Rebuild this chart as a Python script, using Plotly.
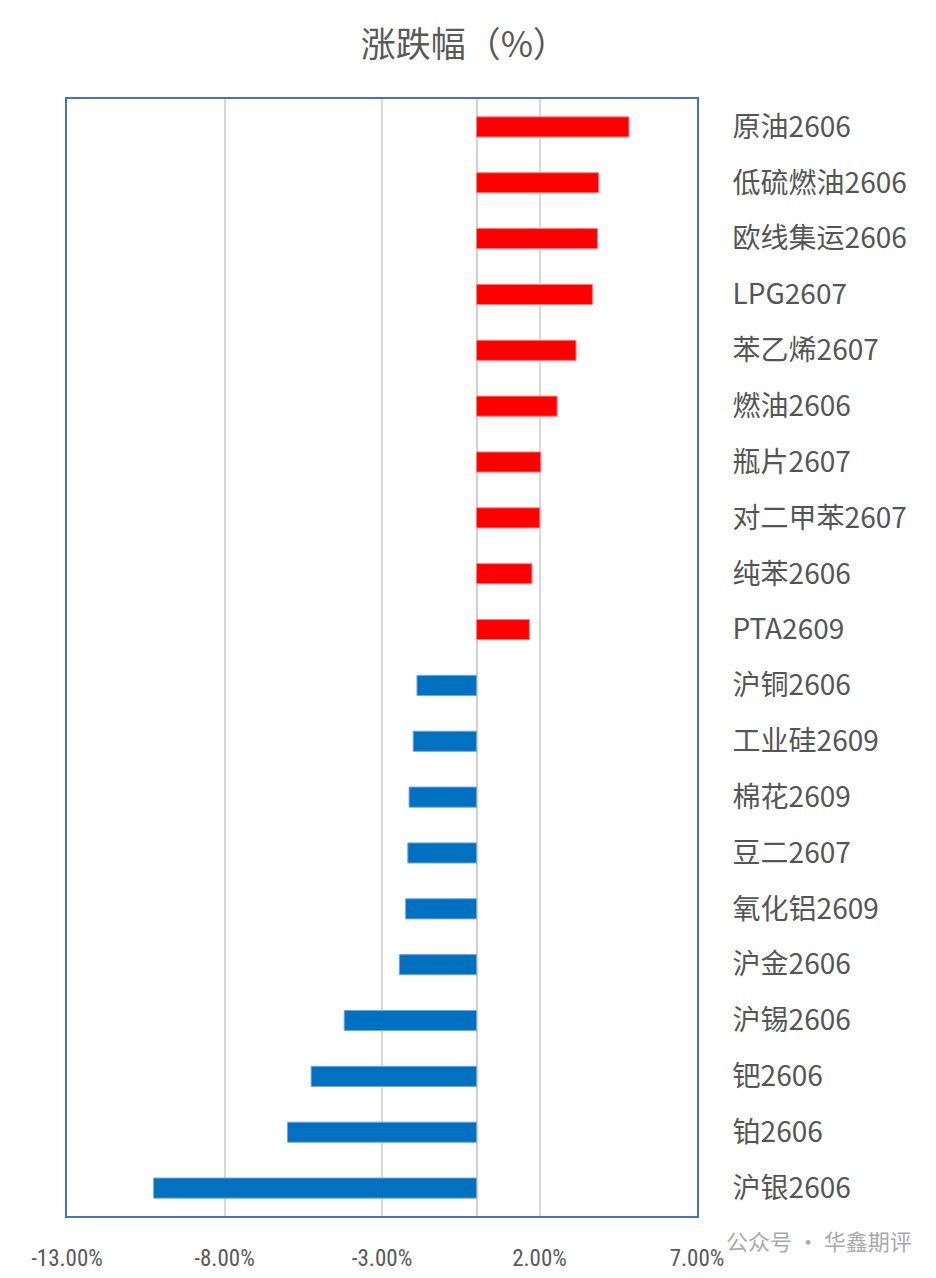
import plotly.graph_objects as go

categories = ["原油2606", "低硫燃油2606", "欧线集运2606", "LPG2607", "苯乙烯2607",
              "燃油2606", "瓶片2607", "对二甲苯2607", "纯苯2606", "PTA2609",
              "沪铜2606", "工业硅2609", "棉花2609", "豆二2607", "氧化铝2609",
              "沪金2606", "沪锡2606", "钯2606", "铂2606", "沪银2606"]
changes = [4.84, 3.88, 3.84, 3.68, 3.16, 2.56, 2.04, 2.01, 1.76, 1.68,
           -1.89, -2.01, -2.14, -2.18, -2.25, -2.45, -4.20, -5.25, -6.00, -10.25]
x_ticks = [-13, -8, -3, 2, 7]
x_tick_labels = ["-13.00%", "-8.00%", "-3.00%", "2.00%", "7.00%"]
title_text = "涨跌幅（%）"
watermark = "公众号 · 华鑫期评"

UP, DOWN = "#FF0000", "#0070C0"
colors = [UP if v >= 0 else DOWN for v in changes]
edge = ["#FF8080" if v >= 0 else "#6FA8DC" for v in changes]

CJK = "Noto Sans CJK SC, Microsoft YaHei, sans-serif"

fig = go.Figure(go.Bar(
    x=changes, y=categories, orientation="h",
    marker=dict(color=colors, line=dict(color=edge, width=1)),
    hoverinfo="x+y",
))

fig.update_layout(
    width=936, height=1278,
    margin=dict(l=67, r=239, t=99, b=62, autoexpand=False),
    paper_bgcolor="white", plot_bgcolor="white",
    bargap=0.64,
    showlegend=False,
    title=dict(text=title_text, x=0.496, xanchor="center", y=1 - 45 / 1278, yanchor="middle",
               font=dict(family=CJK, size=35, color="#595959")),
    xaxis=dict(
        range=[-13, 7], tickvals=x_ticks, ticktext=x_tick_labels, automargin=False,
        showgrid=True, gridcolor="#D9D9D9", gridwidth=1.5,
        zeroline=True, zerolinecolor="#D0D0D0", zerolinewidth=1.5,
        showline=True, mirror=True, linecolor="#4472C4", linewidth=2,
        ticks="", ticklabelstandoff=20,
        tickfont=dict(family="Liberation Sans Narrow, Roboto Condensed, Arial Narrow, sans-serif",
                      size=23, color="#595959"),
    ),
    yaxis=dict(
        categoryorder="array", categoryarray=categories, autorange="reversed",
        side="right", showgrid=False, zeroline=False, automargin=False,
        showline=True, mirror=True, linecolor="#4472C4", linewidth=2,
        ticks="", ticklabelstandoff=28,
        tickfont=dict(family=CJK, size=28, color="#555555"),
    ),
)

fig.add_annotation(
    text=watermark, xref="paper", yref="paper",
    x=(914 - 67) / (936 - 67 - 239), y=-(1240 - 1216) / (1278 - 99 - 62),
    xanchor="right", yanchor="middle", showarrow=False,
    font=dict(family=CJK, size=22, color="#9A9A9A"), opacity=0.85,
)

fig.write_html("out.html", config={"displayModeBar": False},
               post_script="document.body.style.margin='0';document.body.style.padding='0';")
